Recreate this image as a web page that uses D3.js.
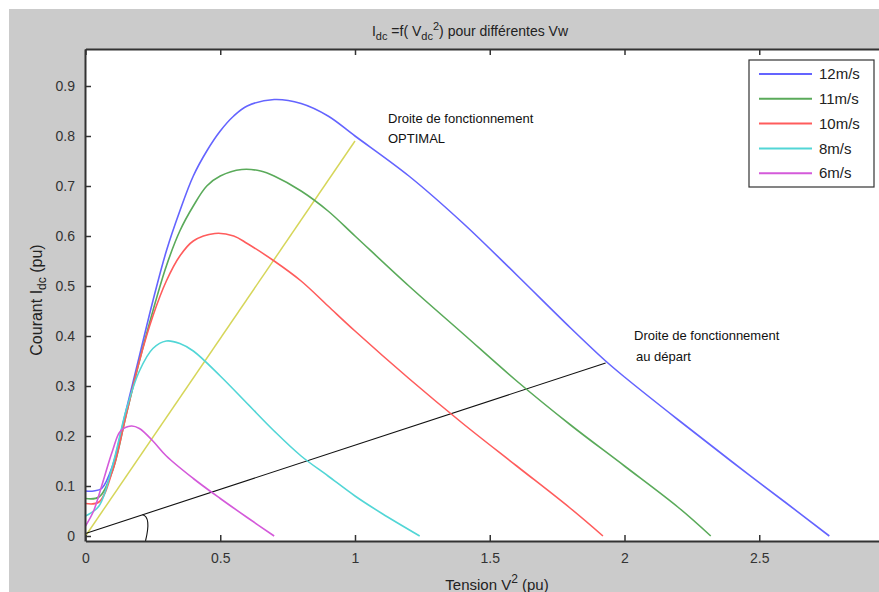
<!DOCTYPE html>
<meta charset="utf-8">
<style>
    body { margin: 0; background: #fff; }
    text { font-family: "Liberation Sans", Arial, sans-serif; }
    .tick text { fill: #333; font-size: 14px; }
</style>
<svg width="879" height="592"></svg>
<script src="https://cdnjs.cloudflare.com/ajax/libs/d3/7.8.5/d3.min.js"></script>
<script>

    // vitesses de vent
    var labels = ["12m/s", "11m/s", "10m/s", "8m/s", "6m/s"];
    var colors = ["#6464ff", "#5aaa5a", "#ff5c5c", "#52d6d6", "#d45ada"];

    // V^2 (pu) et Idc (pu)
    var v12 = [0, 0.03, 0.06, 0.1, 0.15, 0.2, 0.25, 0.3, 0.35, 0.4, 0.45, 0.5, 0.55, 0.6, 0.7, 0.8, 0.9, 1.0, 1.2, 1.4, 1.6, 1.8, 1.93, 2.0, 2.2, 2.4, 2.6, 2.76];
    var i12 = [0.09, 0.09, 0.095, 0.14, 0.25, 0.36, 0.47, 0.57, 0.65, 0.72, 0.77, 0.81, 0.84, 0.86, 0.873, 0.865, 0.84, 0.80, 0.72, 0.626, 0.522, 0.416, 0.35, 0.318, 0.232, 0.148, 0.066, 0];

    var v11 = [0, 0.05, 0.1, 0.15, 0.2, 0.25, 0.3, 0.35, 0.4, 0.45, 0.5, 0.58, 0.65, 0.7, 0.8, 0.9, 1.0, 1.2, 1.4, 1.6, 1.8, 2.0, 2.2, 2.32];
    var i11 = [0.075, 0.078, 0.13, 0.24, 0.35, 0.45, 0.54, 0.61, 0.66, 0.70, 0.72, 0.733, 0.73, 0.72, 0.69, 0.65, 0.60, 0.50, 0.405, 0.31, 0.222, 0.14, 0.057, 0];

    var v10 = [0, 0.05, 0.1, 0.15, 0.2, 0.25, 0.3, 0.35, 0.4, 0.48, 0.55, 0.6, 0.7, 0.8, 0.9, 1.0, 1.2, 1.4, 1.6, 1.8, 1.92];
    var i10 = [0.065, 0.068, 0.13, 0.24, 0.35, 0.44, 0.51, 0.56, 0.59, 0.605, 0.60, 0.585, 0.55, 0.51, 0.46, 0.41, 0.315, 0.225, 0.14, 0.055, 0];

    var v8 = [0, 0.05, 0.1, 0.15, 0.2, 0.25, 0.3, 0.35, 0.4, 0.5, 0.6, 0.7, 0.8, 0.9, 1.0, 1.1, 1.24];
    var i8 = [0.04, 0.06, 0.14, 0.25, 0.33, 0.375, 0.39, 0.385, 0.37, 0.32, 0.265, 0.21, 0.16, 0.12, 0.08, 0.045, 0];

    var v6 = [0, 0.03, 0.06, 0.1, 0.13, 0.17, 0.2, 0.25, 0.3, 0.4, 0.5, 0.6, 0.7];
    var i6 = [0.02, 0.05, 0.10, 0.17, 0.21, 0.22, 0.215, 0.19, 0.16, 0.115, 0.075, 0.037, 0];

    // droites de fonctionnement
    var optV = [0, 1.0], optI = [0, 0.79];
    var depV = [0, 1.93], depI = [0.005, 0.346];

    var xTicks = [0, 0.5, 1, 1.5, 2, 2.5];
    var yTicks = [0, 0.1, 0.2, 0.3, 0.4, 0.5, 0.6, 0.7, 0.8, 0.9];

    var series = [[v12, i12], [v11, i11], [v10, i10], [v8, i8], [v6, i6]];

    var svg = d3.select("svg"),
        width = +svg.attr("width"),
        height = +svg.attr("height");

    var pLeft = 85, pTop = 49, pRight = 894, pBottom = 541;

    svg.append("rect").attr("x", 9).attr("y", 9).attr("width", width - 9).attr("height", height - 9)
        .attr("fill", "#cbcbcb");
    svg.append("rect").attr("x", pLeft).attr("y", pTop).attr("width", pRight - pLeft).attr("height", pBottom - pTop)
        .attr("fill", "#fff");

    var x = d3.scaleLinear().domain([0, 3]).range([pLeft + 0.5, pRight]);
    var y = d3.scaleLinear().domain([-0.01, 0.974]).range([pBottom, pTop]);

    var line = d3.line()
        .x(function (d) { return x(d[0]); })
        .y(function (d) { return y(d[1]); })
        .curve(d3.curveCatmullRom.alpha(0.5));

    var g = svg.append("g");

    // droite optimale
    g.append("path")
        .datum(d3.zip(optV, optI))
        .attr("d", line)
        .attr("fill", "none").attr("stroke", "#d6d65a").attr("stroke-width", 1.5);

    // droite au départ
    g.append("path")
        .datum(d3.zip(depV, depI))
        .attr("d", line)
        .attr("fill", "none").attr("stroke", "#111").attr("stroke-width", 1.1);

    // petit arc d'angle
    var a = Math.atan2(y(depI[0]) - y(depI[1]), x(depV[1]) - x(depV[0]));
    var r = 60, cx = x(0), cy = y(depI[0]);
    g.append("path")
        .attr("d", "M" + (cx + r * Math.cos(a)) + "," + (cy - r * Math.sin(a)) +
            " Q" + (cx + r + 6) + "," + (cy - r * Math.sin(a) + 2) + " " + (cx + r) + "," + pBottom)
        .attr("fill", "none").attr("stroke", "#111").attr("stroke-width", 1.1);

    series.forEach(function (s, k) {
        g.append("path")
            .datum(d3.zip(s[0], s[1]))
            .attr("d", line)
            .attr("fill", "none")
            .attr("stroke", colors[k])
            .attr("stroke-width", 1.6);
    });

    // axes
    var xAxis = d3.axisBottom(x).tickValues(xTicks).tickSizeInner(-6).tickSizeOuter(0).tickPadding(12)
        .tickFormat(function (d) { return d; });
    var yAxis = d3.axisLeft(y).tickValues(yTicks).tickSizeInner(-6).tickSizeOuter(0).tickPadding(10)
        .tickFormat(function (d) { return d; });

    var gx = svg.append("g").attr("transform", "translate(0," + pBottom + ")").call(xAxis);
    var gy = svg.append("g").attr("transform", "translate(" + pLeft + ",0)").call(yAxis);
    svg.append("g").attr("transform", "translate(0," + pTop + ")")
        .call(d3.axisTop(x).tickValues(xTicks).tickSizeInner(-6).tickSizeOuter(0).tickFormat(""));
    svg.append("g").attr("transform", "translate(" + pRight + ",0)")
        .call(d3.axisRight(y).tickValues(yTicks).tickSizeInner(-6).tickSizeOuter(0).tickFormat(""));

    svg.selectAll(".domain").attr("stroke", "#333").attr("stroke-width", 2);
    svg.selectAll(".tick line").attr("stroke", "#333").attr("stroke-width", 1.5);
    gx.selectAll(".tick text").attr("dy", "0.71em");

    // titre
    var title = svg.append("text").attr("x", 470).attr("y", 36).attr("text-anchor", "middle")
        .attr("font-size", 14).attr("fill", "#222");
    title.append("tspan").text("I");
    title.append("tspan").attr("font-size", 11).attr("dy", 4).text("dc");
    title.append("tspan").attr("dy", -4).text(" =f( V");
    title.append("tspan").attr("font-size", 11).attr("dy", 4).text("dc");
    title.append("tspan").attr("font-size", 11).attr("dy", -10).text("2");
    title.append("tspan").attr("dy", 6).text(") pour différentes Vw");

    // axe x
    var xl = svg.append("text").attr("x", 497).attr("y", 590).attr("text-anchor", "middle")
        .attr("font-size", 15).attr("fill", "#222");
    xl.append("tspan").text("Tension    V");
    xl.append("tspan").attr("font-size", 12).attr("dy", -7).text("2");
    xl.append("tspan").attr("dy", 7).text(" (pu)");

    // axe y
    var yl = svg.append("text").attr("transform", "translate(42,300) rotate(-90)").attr("text-anchor", "middle")
        .attr("font-size", 16).attr("fill", "#222");
    yl.append("tspan").text("Courant  I");
    yl.append("tspan").attr("font-size", 12).attr("dy", 4).text("dc");
    yl.append("tspan").attr("dy", -4).text("   (pu)");

    // annotations
    svg.append("text").attr("x", 388).attr("y", 123).attr("font-size", 13).attr("fill", "#111")
        .text("Droite de fonctionnement");
    svg.append("text").attr("x", 388).attr("y", 143).attr("font-size", 13).attr("fill", "#111")
        .text("OPTIMAL");
    svg.append("text").attr("x", 634).attr("y", 340).attr("font-size", 13).attr("fill", "#111")
        .text("Droite de fonctionnement");
    svg.append("text").attr("x", 636).attr("y", 361).attr("font-size", 13).attr("fill", "#111")
        .text("au départ");

    // légende
    var lg = svg.append("g").attr("transform", "translate(749,60)");
    lg.append("rect").attr("width", 125).attr("height", 127).attr("fill", "#fff")
        .attr("stroke", "#333").attr("stroke-width", 1.2);
    labels.forEach(function (l, k) {
        var yy = 14 + k * 24.8;
        lg.append("line").attr("x1", 10).attr("x2", 63).attr("y1", yy).attr("y2", yy)
            .attr("stroke", colors[k]).attr("stroke-width", 2);
        lg.append("text").attr("x", 70).attr("y", yy).attr("dy", "0.35em")
            .attr("font-size", 15).attr("fill", "#222").text(l);
    });

</script>
